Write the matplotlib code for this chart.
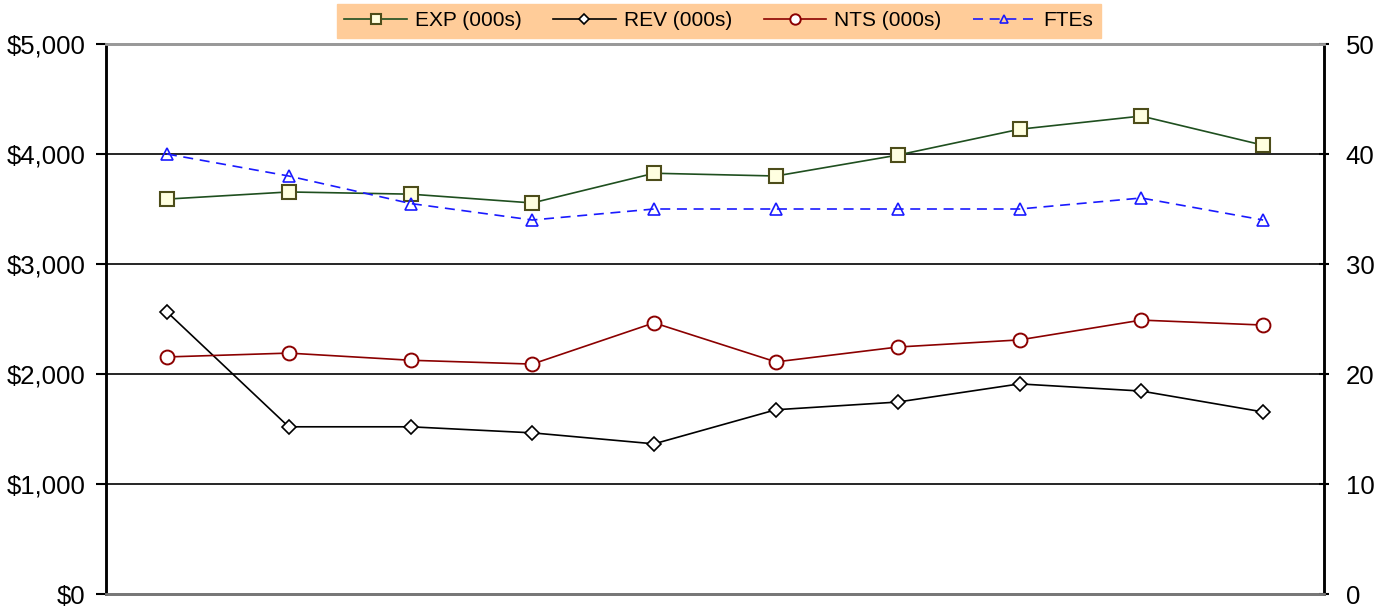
import matplotlib.pyplot as plt
from matplotlib.ticker import FuncFormatter

plt.rcParams['font.family'] = ['Liberation Sans', 'DejaVu Sans']

# ── data ──────────────────────────────────────────────────────────────────────
periods = list(range(10))
exp_vals = [3590, 3655, 3635, 3555, 3825, 3800, 3990, 4225, 4345, 4080]
rev_vals = [2565, 1520, 1520, 1465, 1365, 1675, 1745, 1910, 1845, 1655]
nts_vals = [2155, 2190, 2125, 2090, 2465, 2110, 2245, 2310, 2490, 2445]
fte_vals = [40, 38, 35.5, 34, 35, 35, 35, 35, 36, 34]

# ── figure ────────────────────────────────────────────────────────────────────
fig = plt.figure(figsize=(13.93, 6.07), dpi=100)
ax = fig.add_axes([106 / 1393, 13 / 607, 1218 / 1393, 550 / 607])
ax2 = ax.twinx()

l1, = ax.plot(periods, exp_vals, color='#1f4f1f', lw=1.2, marker='s', ms=10,
              mfc='#ffffe0', mec='#4d4d1a', mew=1.5, label='EXP (000s)')
l2, = ax.plot(periods, rev_vals, color='black', lw=1.2, marker='D', ms=7,
              mfc='white', mec='black', mew=1.2, label='REV (000s)')
l3, = ax.plot(periods, nts_vals, color='#8b0000', lw=1.2, marker='o', ms=10,
              mfc='white', mec='#8b0000', mew=1.4, label='NTS (000s)')
l4, = ax2.plot(periods, fte_vals, color='#1a1aff', lw=1.2, ls=(0, (6, 4)),
               marker='^', ms=8, mfc='none', mec='#1a1aff', mew=1.2,
               label='FTEs')

ax.set_xlim(-0.5, 9.5)
ax.set_ylim(0, 5000)
ax2.set_ylim(0, 50)
ax.set_yticks(range(0, 5001, 1000))
ax2.set_yticks(range(0, 51, 10))
ax.yaxis.set_major_formatter(FuncFormatter(lambda v, p: f'${v:,.0f}'))
ax.set_xticks([])

for y in range(1000, 5000, 1000):
    ax.axhline(y, color='black', lw=1.2, zorder=0)

for a in (ax, ax2):
    a.spines['top'].set_color('#999999')
    a.spines['top'].set_linewidth(2)
    a.spines['bottom'].set_color('#777777')
    a.spines['bottom'].set_linewidth(2)
    a.spines['left'].set_linewidth(1.8)
    a.spines['right'].set_linewidth(1.8)
ax.tick_params(axis='y', labelsize=18.5, length=7, width=1.5, pad=8)
ax2.tick_params(axis='y', labelsize=18.5, length=7, width=1.5, pad=12,
                direction='inout')

leg = fig.legend(handles=[l1, l2, l3, l4], loc='upper center',
                 bbox_to_anchor=(719 / 1393, 1.0), ncol=4, fontsize=15,
                 frameon=True, fancybox=False, borderpad=0.35,
                 columnspacing=1.5, handlelength=3.0, handletextpad=0.4,
                 markerscale=0.75, borderaxespad=0.2)
leg.get_frame().set_facecolor('#ffcc99')
leg.get_frame().set_edgecolor('#ffcc99')
leg.get_frame().set_alpha(1)

fig.savefig('out.png', dpi=100)
